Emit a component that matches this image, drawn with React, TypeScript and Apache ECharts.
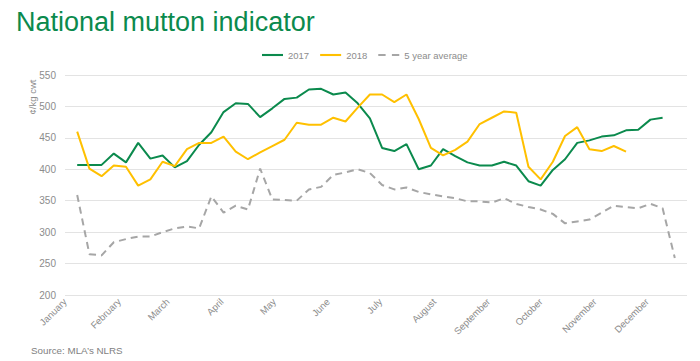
import React, { useEffect, useRef } from "react";
import * as echarts from "echarts";

const months = ["January", "February", "March", "April", "May", "June", "July", "August", "September", "October", "November", "December"];
const monthStartDay = [0, 31, 59, 90, 120, 151, 181, 212, 243, 273, 304, 334];
const weeks = [1, 2, 3, 4, 5, 6, 7, 8, 9, 10, 11, 12, 13, 14, 15, 16, 17, 18, 19, 20, 21, 22, 23, 24, 25, 26, 27, 28, 29, 30, 31, 32, 33, 34, 35, 36, 37, 38, 39, 40, 41, 42, 43, 44, 45, 46, 47, 48, 49, 50];
const y2017 = [407, 407, 407, 425, 411, 442, 417, 422, 403, 413, 439, 459, 491, 505, 504, 483, 497, 512, 514, 527, 528, 519, 522, 505, 481, 434, 429, 440, 400, 406, 432, 421, 411, 406, 406, 412, 406, 381, 374, 399, 416, 442, 446, 452, 454, 462, 463, 479, 482];
const y2018 = [460, 401, 389, 406, 404, 374, 384, 412, 405, 432, 442, 442, 452, 428, 416, 427, 437, 447, 474, 471, 471, 482, 476, 498, 519, 519, 507, 519, 480, 434, 422, 431, 444, 472, 482, 492, 490, 404, 384, 412, 453, 467, 432, 429, 437, 428];
const avg5 = [359, 265, 263, 284, 289, 293, 293, 300, 306, 309, 306, 357, 331, 342, 336, 401, 352, 351, 350, 368, 372, 391, 395, 400, 394, 375, 368, 371, 364, 360, 357, 354, 349, 349, 347, 354, 345, 340, 336, 329, 314, 317, 320, 331, 342, 340, 338, 345, 338, 259];
const yTicks = { min: 200, max: 550, step: 50 };

const FONT = "'Liberation Sans', Arial, sans-serif";
const GREEN = "#0B8A4D";
const YELLOW = "#FFC000";
const GREY = "#A6A6A6";
const LABEL = "#8C8C8C";

const SOLID_ICON = "path://M0,0h20v2h-20z";
const DASH_ICON = "path://M0,0h7v2h-7z M13,0h7v2h-7z";

const toPoints = (vals: number[]) => vals.map((v, i) => [weeks[i] * 7, v]);

export default function App() {
  const ref = useRef<HTMLDivElement>(null);
  useEffect(() => {
    if (!ref.current) return;
    const chart = echarts.init(ref.current, undefined, { renderer: "svg" });
    chart.setOption({
      animation: false,
      backgroundColor: "#ffffff",
      textStyle: { fontFamily: FONT },
      title: {
        text: "National mutton indicator",
        left: 16,
        top: 8,
        padding: 0,
        textStyle: { color: GREEN, fontSize: 27, fontWeight: "normal", fontFamily: FONT },
      },
      legend: {
        left: 262,
        top: 50,
        padding: 0,
        itemWidth: 21,
        itemHeight: 12,
        itemGap: 11,
        textStyle: { color: LABEL, fontSize: 9.5, fontFamily: FONT },
        data: [
          { name: "2017", icon: SOLID_ICON },
          { name: "2018", icon: SOLID_ICON },
          { name: "5 year average", icon: DASH_ICON },
        ],
      },
      grid: { left: 65, right: 13, top: 75, bottom: 66, outerBoundsMode: "none", containLabel: false },
      xAxis: {
        type: "value",
        min: 0,
        max: 357,
        axisLine: { show: false },
        axisTick: { show: false },
        splitLine: { show: false },
        axisLabel: {
          customValues: monthStartDay,
          rotate: 45,
          margin: 5,
          color: LABEL,
          fontSize: 9.5,
          fontFamily: FONT,
          formatter: (v: number) => months[monthStartDay.indexOf(v)] ?? "",
        },
      },
      yAxis: {
        type: "value",
        min: yTicks.min,
        max: yTicks.max,
        interval: yTicks.step,
        axisLine: { show: false },
        axisTick: { show: false },
        axisLabel: { color: LABEL, fontSize: 10, margin: 9, fontFamily: FONT },
        splitLine: { lineStyle: { color: "#E3E3E3", width: 1 } },
      },
      graphic: [
        {
          type: "text",
          x: 32,
          y: 97,
          rotation: Math.PI / 2,
          style: { text: "¢/kg cwt", fill: LABEL, fontSize: 9.5, fontFamily: FONT, align: "center", verticalAlign: "middle" },
        },
        {
          type: "text",
          x: 31,
          y: 350,
          style: { text: "Source: MLA\u2019s NLRS", fill: "#7F7F7F", fontSize: 9.8, fontFamily: FONT, align: "left", verticalAlign: "middle" },
        },
      ],
      series: [
        {
          name: "2017",
          type: "line",
          data: toPoints(y2017),
          symbol: "none",
          lineStyle: { color: GREEN, width: 2 },
          itemStyle: { color: GREEN },
        },
        {
          name: "2018",
          type: "line",
          data: toPoints(y2018),
          symbol: "none",
          lineStyle: { color: YELLOW, width: 2 },
          itemStyle: { color: YELLOW },
        },
        {
          name: "5 year average",
          type: "line",
          data: toPoints(avg5),
          symbol: "none",
          lineStyle: { color: GREY, width: 2, type: [7, 5] },
          itemStyle: { color: GREY },
        },
      ],
    });
    return () => chart.dispose();
  }, []);
  return <div ref={ref} style={{ position: "fixed", left: 0, top: 0, width: 700, height: 361 }} />;
}
